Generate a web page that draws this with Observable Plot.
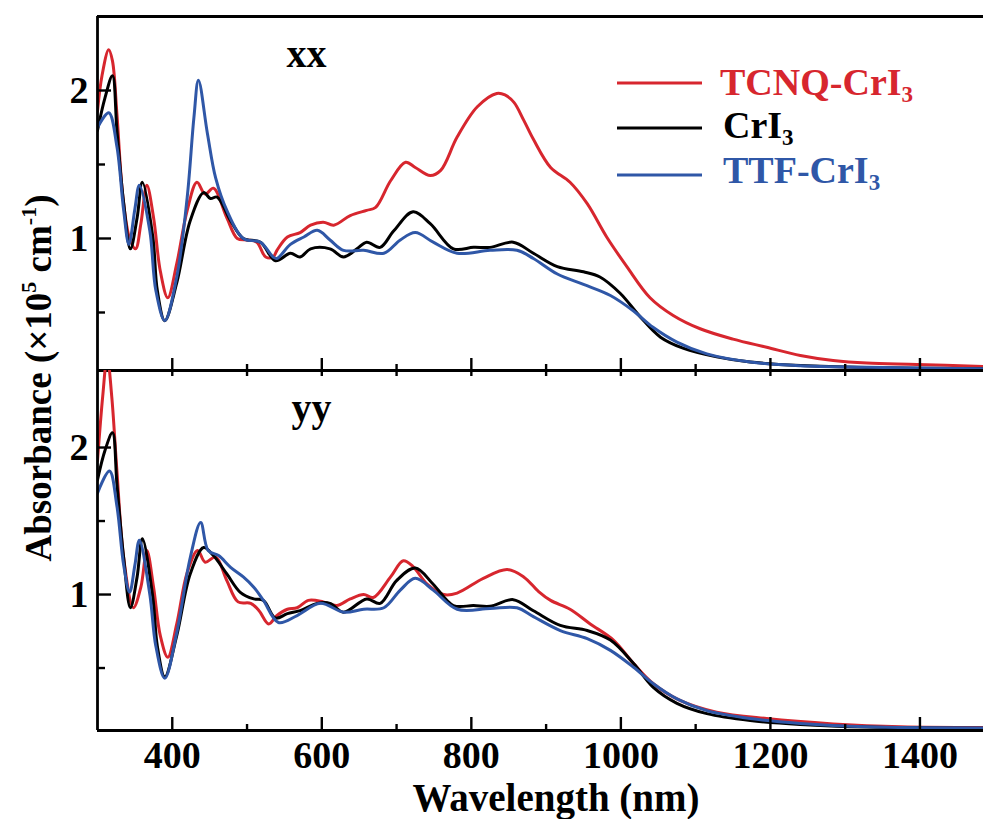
<!DOCTYPE html>
<html><head><meta charset="utf-8">
<script src="https://cdn.jsdelivr.net/npm/d3@7"></script>
<script src="https://cdn.jsdelivr.net/npm/@observablehq/plot@0.6"></script>
<style>
body{margin:0;background:#fff;}
#chart{position:relative;width:983px;height:819px;overflow:hidden;background:#fff;}
#chart svg{position:absolute;left:0;overflow:visible;background:transparent;}
</style></head><body><div id="chart"></div>
<script>
// ---------- data ----------
const seriesNames = ["TCNQ-CrI3", "CrI3", "TTF-CrI3"];
const seriesColors = ["#d7262e", "#000000", "#2f57a7"];
const panelLabels = ["xx", "yy"];
const xDomain = [300, 1485];
const xMajorTicks = [400, 600, 800, 1000, 1200, 1400];
const xMinorTicks = [500, 700, 900, 1100, 1300];
const xAllTicks = [400, 500, 600, 700, 800, 900, 1000, 1100, 1200, 1300, 1400];
const yMajorTicks = [1, 2];
const yMinorTicks = [0.5, 1.5];
const xxDomain = [0.108, 2.5];
const yyDomain = [0.075, 2.524];

// xx polarisation (wavelength nm, absorbance x1e5 cm^-1)
const xxTCNQ = [[300,1.86],[306,2.1],[315,2.275],[320,2.2],[326,1.84],[334,1.28],[343,1.0],[351,0.93],[358,1.1],[366,1.36],[375,1.14],[384,0.78],[394,0.60],[406,0.83],[420,1.19],[433,1.38],[444,1.30],[455,1.34],[473,1.14],[487,1.00],[500,0.99],[513,0.975],[525,0.875],[535,0.875],[540,0.92],[554,1.01],[571,1.04],[585,1.09],[602,1.11],[616,1.09],[638,1.155],[660,1.19],[672,1.21],[692,1.39],[712,1.515],[725,1.48],[745,1.425],[759,1.46],[781,1.685],[808,1.89],[834,1.98],[845,1.97],[857,1.92],[870,1.80],[883,1.67],[906,1.48],[932,1.38],[955,1.235],[981,1.01],[1008,0.81],[1039,0.60],[1070,0.48],[1106,0.39],[1150,0.32],[1195,0.265],[1240,0.21],[1284,0.176],[1329,0.158],[1396,0.149],[1485,0.135]];
const xxCrI3 = [[300,1.73],[310,1.95],[320,2.10],[326,1.73],[335,1.24],[344,0.93],[353,1.14],[360,1.38],[374,1.01],[380,0.65],[390,0.445],[406,0.70],[424,1.12],[442,1.31],[451,1.27],[460,1.28],[478,1.12],[495,1.0],[518,0.975],[538,0.85],[558,0.90],[571,0.875],[585,0.93],[611,0.93],[629,0.875],[647,0.93],[660,0.975],[678,0.94],[696,1.05],[722,1.18],[745,1.10],[776,0.93],[803,0.94],[825,0.94],[856,0.975],[883,0.90],[915,0.81],[950,0.775],[972,0.74],[999,0.63],[1026,0.47],[1053,0.333],[1084,0.257],[1128,0.20],[1173,0.165],[1240,0.142],[1329,0.128],[1485,0.12]];
const xxTTF = [[300,1.75],[315,1.85],[326,1.62],[335,1.19],[342,0.96],[350,1.2],[356,1.36],[370,1.05],[378,0.65],[390,0.445],[406,0.74],[420,1.28],[429,1.82],[435,2.07],[447,1.71],[458,1.41],[473,1.19],[495,1.0],[518,0.975],[535,0.875],[540,0.865],[558,0.96],[576,1.01],[594,1.055],[611,0.99],[629,0.92],[656,0.92],[683,0.90],[705,0.99],[725,1.04],[749,0.975],[781,0.90],[825,0.92],[861,0.92],[883,0.865],[915,0.76],[950,0.69],[986,0.615],[1017,0.51],[1043,0.40],[1075,0.30],[1115,0.22],[1173,0.165],[1240,0.14],[1329,0.13],[1485,0.12]];

// yy polarisation
const yyTCNQ = [[300,1.91],[307,2.35],[313,2.62],[319,2.35],[326,1.84],[335,1.25],[348,0.91],[358,1.05],[366,1.30],[375,1.05],[384,0.72],[394,0.574],[406,0.80],[420,1.15],[434,1.30],[444,1.22],[458,1.255],[473,1.095],[488,0.95],[505,0.94],[516,0.89],[529,0.80],[540,0.857],[554,0.90],[567,0.91],[582,0.96],[602,0.95],[620,0.925],[638,0.97],[656,1.0],[669,0.98],[692,1.12],[709,1.23],[722,1.19],[741,1.07],[763,1.0],[781,1.01],[816,1.11],[848,1.17],[870,1.12],[890,1.02],[906,0.96],[932,0.90],[959,0.80],[990,0.69],[1017,0.53],[1043,0.395],[1079,0.28],[1128,0.20],[1195,0.156],[1284,0.12],[1374,0.10],[1485,0.095]];
const yyCrI3 = [[300,1.78],[310,1.98],[320,2.10],[326,1.75],[335,1.25],[344,0.91],[353,1.12],[360,1.38],[374,0.98],[380,0.65],[390,0.44],[406,0.72],[424,1.14],[442,1.32],[455,1.265],[473,1.14],[491,1.015],[509,0.97],[522,0.96],[538,0.84],[554,0.87],[571,0.89],[594,0.94],[611,0.94],[629,0.88],[660,0.97],[678,0.94],[700,1.095],[725,1.18],[749,1.07],[776,0.925],[803,0.925],[825,0.92],[856,0.965],[883,0.89],[919,0.79],[955,0.755],[986,0.69],[1017,0.53],[1043,0.37],[1075,0.26],[1115,0.19],[1173,0.143],[1240,0.116],[1329,0.098],[1485,0.09]];
const yyTTF = [[300,1.69],[316,1.84],[326,1.6],[335,1.2],[343,1.015],[350,1.2],[356,1.37],[370,1.0],[378,0.65],[390,0.43],[406,0.74],[424,1.25],[438,1.49],[448,1.30],[462,1.265],[478,1.185],[495,1.12],[509,1.05],[522,0.96],[542,0.81],[567,0.857],[598,0.94],[629,0.88],[656,0.90],[683,0.91],[705,1.03],[725,1.11],[749,1.03],[781,0.90],[825,0.905],[861,0.91],[883,0.85],[919,0.755],[955,0.70],[986,0.62],[1017,0.505],[1043,0.395],[1075,0.29],[1115,0.21],[1173,0.156],[1240,0.123],[1329,0.10],[1485,0.092]];

// ---------- build ----------
const FONT = "'Liberation Serif','Times New Roman',serif";
function rows(list) {
  const out = [];
  list.forEach((arr, i) => arr.forEach(([w, a]) => out.push({w, a, s: seriesNames[i]})));
  return out;
}
const colorScale = {domain: seriesNames, range: seriesColors};
const container = document.getElementById("chart");
const plain = (d) => String(d);

function panel({data, yDomain, height, marginTop, marginBottom, label, isBottom}) {
  const marks = [
    Plot.line(rows(data), {x: "w", y: "a", stroke: "s", z: "s", strokeWidth: 3, curve: "catmull-rom", clip: true}),
    Plot.ruleX([xDomain[0]], {stroke: "#000", strokeWidth: 2.8}),
    Plot.ruleY([yDomain[0]], {stroke: "#000", strokeWidth: 2.8}),
    Plot.axisY(yMajorTicks, {anchor: "left", tickSize: -14, strokeWidth: 2.4, tickFormat: () => "", label: null}),
    Plot.axisY(yMinorTicks, {anchor: "left", tickSize: -8, strokeWidth: 2.4, tickFormat: () => "", label: null}),
    Plot.axisY(yMajorTicks, {anchor: "left", tickSize: 0, tickPadding: 9, tickFormat: plain, fontSize: 38, fontWeight: "bold", fontFamily: FONT, label: null}),
    Plot.text([label], {frameAnchor: "top-left", dx: isBottom ? 214 : 209, dy: 38, textAnchor: "middle", lineAnchor: "middle", fontSize: 40, fontWeight: "bold", fontFamily: FONT})
  ];
  if (!isBottom) {
    marks.push(Plot.ruleY([yDomain[1]], {stroke: "#000", strokeWidth: 3}));
    marks.push(Plot.axisX(xMajorTicks, {anchor: "bottom", tickSize: -12, strokeWidth: 2.4, tickFormat: () => "", label: null}));
    marks.push(Plot.axisX(xMinorTicks, {anchor: "bottom", tickSize: -6, strokeWidth: 2.4, tickFormat: () => "", label: null}));
  } else {
    marks.push(Plot.axisX(xAllTicks, {anchor: "top", tickSize: -5, strokeWidth: 2.4, tickFormat: () => "", label: null}));
    marks.push(Plot.axisX(xMajorTicks, {anchor: "bottom", tickSize: -13, strokeWidth: 2.4, tickFormat: () => "", label: null}));
    marks.push(Plot.axisX(xMinorTicks, {anchor: "bottom", tickSize: -6, strokeWidth: 2.4, tickFormat: () => "", label: null}));
    marks.push(Plot.axisX(xMajorTicks, {anchor: "bottom", tickSize: 0, tickPadding: 11, tickFormat: plain, fontSize: 38, fontWeight: "bold", fontFamily: FONT, label: null}));
  }
  return Plot.plot({
    width: 983, height, marginLeft: 97, marginRight: 0, marginTop, marginBottom,
    style: {fontFamily: FONT, fontWeight: "bold", background: "transparent", overflow: "visible"},
    x: {domain: xDomain},
    y: {domain: yDomain},
    color: colorScale,
    marks
  });
}

const topPanel = panel({data: [xxTCNQ, xxCrI3, xxTTF], yDomain: xxDomain, height: 370, marginTop: 16, marginBottom: 0, label: panelLabels[0], isBottom: false});
topPanel.style.top = "0px";
const bottomPanel = panel({data: [yyTCNQ, yyCrI3, yyTTF], yDomain: yyDomain, height: 449, marginTop: 0, marginBottom: 89, label: panelLabels[1], isBottom: true});
bottomPanel.style.top = "370px";
container.appendChild(topPanel);
container.appendChild(bottomPanel);

// ---------- overlay: axis titles and legend ----------
const ov = d3.select(container).append("svg")
  .attr("width", 983).attr("height", 819)
  .style("top", "0px").style("pointer-events", "none")
  .attr("font-family", FONT).attr("font-weight", "bold");

const yl = ov.append("text").attr("transform", "translate(51,378) rotate(-90)")
  .attr("text-anchor", "middle").attr("font-size", 37).attr("fill", "#000");
yl.append("tspan").text("Absorbance (×10");
yl.append("tspan").attr("dy", -15).attr("font-size", 22).text("5");
yl.append("tspan").attr("dy", 15).text(" cm");
yl.append("tspan").attr("dy", -15).attr("font-size", 22).text("-1");
yl.append("tspan").attr("dy", 15).text(")");

ov.append("text").attr("x", 556).attr("y", 811).attr("text-anchor", "middle")
  .attr("font-size", 39).attr("fill", "#000").text("Wavelength (nm)");

const legendY = [83, 128, 175];
const legendTextY = [95, 138, 183];
const legendLabels = [["TCNQ-CrI", "3"], ["CrI", "3"], ["TTF-CrI", "3"]];
seriesNames.forEach((n, i) => {
  ov.append("line").attr("x1", 617).attr("x2", 702).attr("y1", legendY[i]).attr("y2", legendY[i])
    .attr("stroke", seriesColors[i]).attr("stroke-width", 3);
  const t = ov.append("text").attr("x", i === 0 ? 720 : 723).attr("y", legendTextY[i])
    .attr("font-size", 38).attr("fill", seriesColors[i]);
  t.append("tspan").text(legendLabels[i][0]);
  t.append("tspan").attr("dy", 7).attr("font-size", 23).text(legendLabels[i][1]);
});
</script></body></html>
